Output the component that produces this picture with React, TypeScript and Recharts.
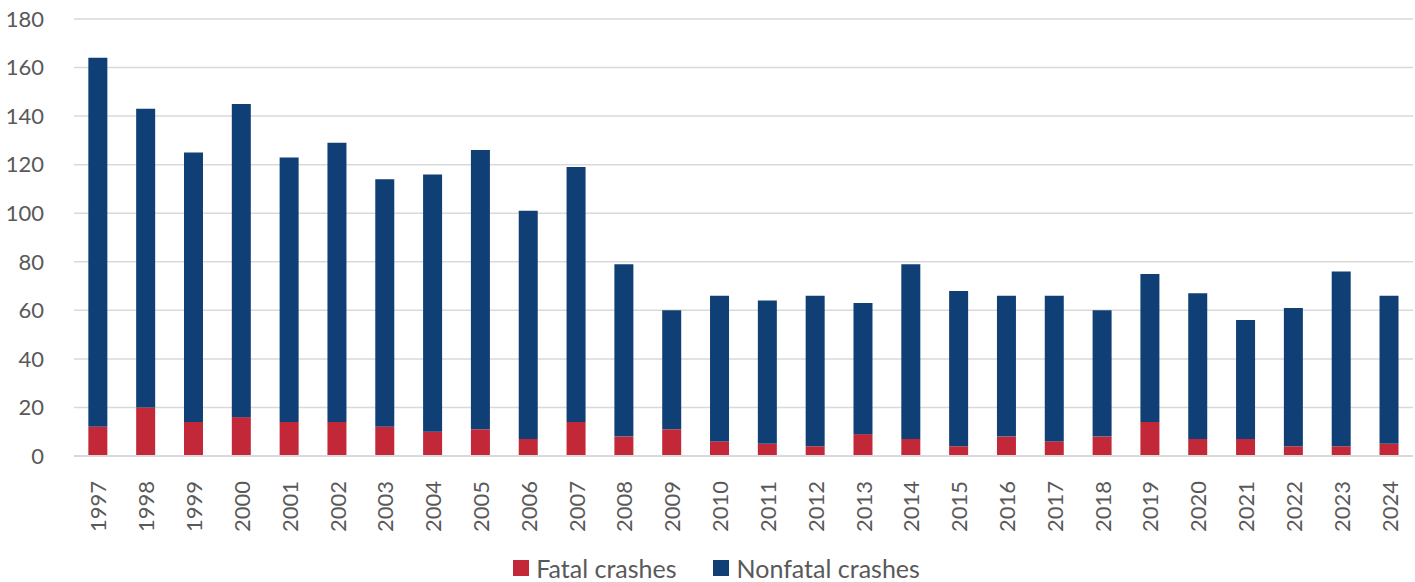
import React from "react";
import { BarChart, Bar, XAxis, YAxis, CartesianGrid, Legend } from "recharts";

const years = ["1997","1998","1999","2000","2001","2002","2003","2004","2005","2006","2007","2008","2009","2010","2011","2012","2013","2014","2015","2016","2017","2018","2019","2020","2021","2022","2023","2024"];
const fatal = [12,20,14,16,14,14,12,10,11,7,14,8,11,6,5,4,9,7,4,8,6,8,14,7,7,4,4,5];
const totals = [164,143,125,145,123,129,114,116,126,101,119,79,60,66,64,66,63,79,68,66,66,60,75,67,56,61,76,66];
const nonfatal = totals.map((t, i) => t - fatal[i]);
const yTicks = [0,20,40,60,80,100,120,140,160,180];

const data = years.map((y, i) => ({ year: y, fatal: fatal[i], nonfatal: nonfatal[i] }));

const FONT = "Lato, 'Noto Sans', sans-serif";
const TXT = "#595959";
const RED = "#C32838";
const BLUE = "#0F3F74";

const XTick = (props: any) => {
  const { x, y, payload } = props;
  return (
    <text x={x} y={y} transform={`rotate(-90, ${x}, ${y})`} textAnchor="end" dominantBaseline="central" dx={-17} fill={TXT} fontSize={22} fontFamily={FONT}>
      {payload.value}
    </text>
  );
};

const LegendContent = () => (
  <div style={{ display: "flex", justifyContent: "center", alignItems: "center", fontFamily: FONT, fontSize: 25, color: TXT, lineHeight: "28px", paddingLeft: 20 }}>
    <span style={{ display: "inline-block", width: 16, height: 16, background: RED, marginRight: 7 }} />
    <span style={{ marginRight: 36 }}>Fatal crashes</span>
    <span style={{ display: "inline-block", width: 16, height: 16, background: BLUE, marginRight: 8 }} />
    <span>Nonfatal crashes</span>
  </div>
);

export default function App() {
  return (
    <div style={{ position: "absolute", left: 0, top: 0, width: 1415, height: 582, background: "#fff" }}>
      <BarChart width={1415} height={582} data={data} margin={{ top: 19, right: 2, left: 0, bottom: 0 }} barCategoryGap="30%">
        <CartesianGrid vertical={false} stroke="#d9d9d9" strokeWidth={1.5} />
        <XAxis dataKey="year" interval={0} tick={<XTick />} tickLine={false} axisLine={{ stroke: "#d9d9d9", strokeWidth: 2 }} height={80} />
        <YAxis domain={[0, 180]} ticks={yTicks} width={74} tickLine={false} axisLine={false} tick={{ fill: TXT, fontSize: 22, fontFamily: FONT, dx: -22 }} />
        <Legend verticalAlign="bottom" height={46} wrapperStyle={{ top: 554, bottom: "auto" }} content={<LegendContent />} />
        <Bar dataKey="fatal" name="Fatal crashes" stackId="a" fill={RED} isAnimationActive={false} />
        <Bar dataKey="nonfatal" name="Nonfatal crashes" stackId="a" fill={BLUE} isAnimationActive={false} />
      </BarChart>
    </div>
  );
}
